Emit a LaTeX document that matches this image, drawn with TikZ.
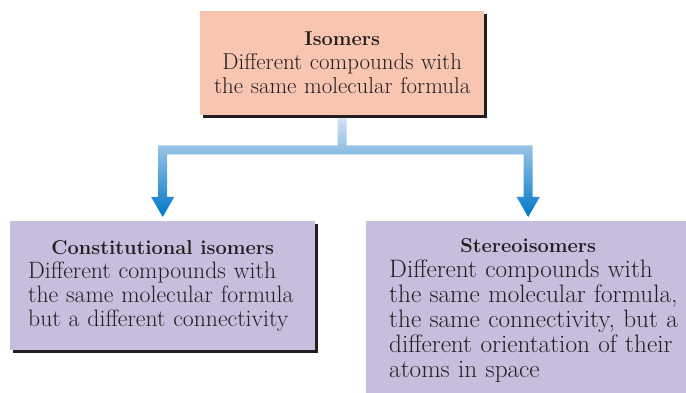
\documentclass[tikz,border=0pt]{standalone}
\usepackage{fontspec}
\usetikzlibrary{shadows,calc}
\definecolor{inktext}{HTML}{231F20}
\definecolor{salmonfill}{HTML}{F8C5B1}
\definecolor{lilacfill}{HTML}{C7BDDC}
\definecolor{arrowtop}{HTML}{D2E1F3}
\definecolor{arrowmid}{HTML}{6399D6}
\definecolor{arrowtip}{HTML}{0077C8}
\tikzset{isobox/.style={anchor=north west, text=inktext, inner ysep=0pt, general shadow={fill=inktext, shadow xshift=3pt, shadow yshift=-3pt}}}
\tikzset{treearrow/.style={top color=arrowtop, middle color=arrowmid, bottom color=arrowtip}}
\newcommand{\isohead}[2][0pt]{{\centering\fontsize{20}{24.5}\selectfont\bfseries\hspace*{#1}#2\par}}

\begin{document}
\begin{tikzpicture}[x=1pt, y=1pt]
            \useasboundingbox (0, 0) rectangle (686, -393);
            \node[isobox, fill=salmonfill, text width=264pt, inner xsep=10pt, minimum height=104pt, align=center,
                font=\fontsize{22.9}{24}\selectfont] (iso) at (200, -11)
                {\isohead{Isomers}Different compounds with\\the same molecular formula};
            \node[isobox, fill=lilacfill, text width=269pt, inner xsep=18pt, minimum height=129pt, align=left,
                font=\fontsize{23.7}{24}\selectfont] (const) at (10, -221)
                {\isohead{Constitutional isomers}Different compounds with\\the same molecular formula\\but a different connectivity};
            \node[isobox, fill=lilacfill, text width=300pt, inner xsep=23pt, minimum height=179pt, align=left,
                font=\fontsize{25.2}{25}\selectfont] (stereo) at (366, -221)
                {\isohead[-22pt]{Stereoisomers}Different compounds with\\the same molecular formula,\\the same connectivity, but a\\different orientation of their\\atoms in space};
            % stem, cross bar and the two arrow heads as one shaded outline
            \shade[treearrow] let \p1 = (iso.south), \p2 = (const.north), \p3 = ([xshift=-11pt]stereo.north) in
                (\x1-4.5pt, \y1-3pt) -- (\x1-4.5pt, \y1-30pt) -- (\x2-4.5pt, \y1-30pt) -- (\x2-4.5pt, \y2+24pt)
                -- (\x2-11.5pt, \y2+24pt) -- (\x2, \y2+4pt) -- (\x2+11.5pt, \y2+24pt) -- (\x2+4.5pt, \y2+24pt)
                -- (\x2+4.5pt, \y1-39pt) -- (\x3-4.5pt, \y1-39pt) -- (\x3-4.5pt, \y3+24pt)
                -- (\x3-11.5pt, \y3+24pt) -- (\x3, \y3+4pt) -- (\x3+11.5pt, \y3+24pt) -- (\x3+4.5pt, \y3+24pt)
                -- (\x3+4.5pt, \y1-30pt) -- (\x1+4.5pt, \y1-30pt) -- (\x1+4.5pt, \y1-3pt) -- cycle;
        \end{tikzpicture}
\end{document}
